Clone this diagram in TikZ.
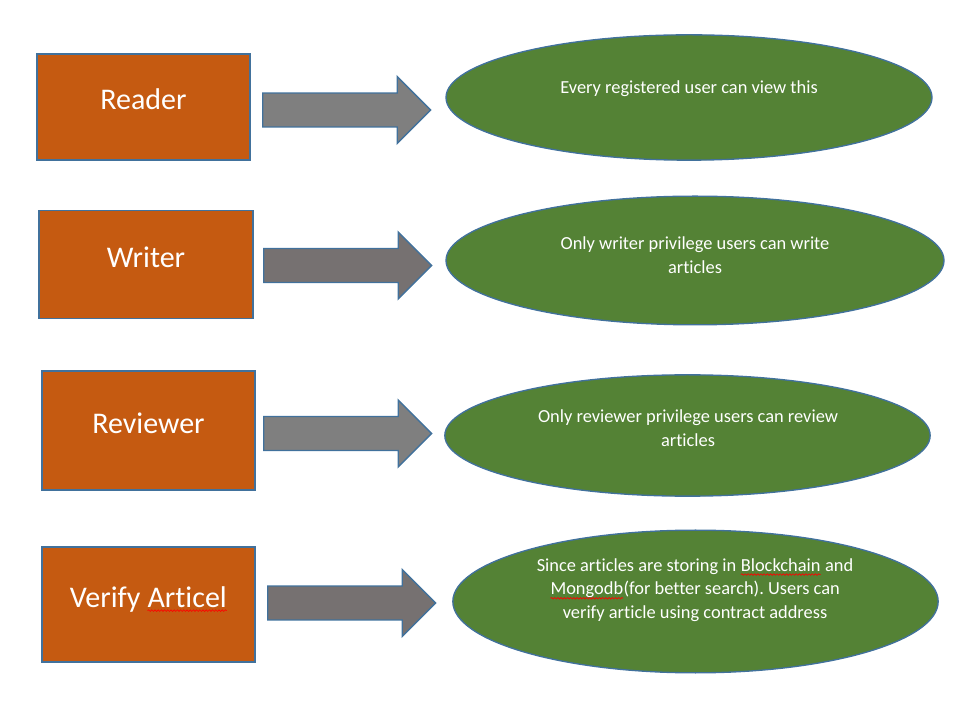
\documentclass[tikz,border=0pt]{standalone}
\usepackage{fontspec}
\setmainfont{Carlito}[Ligatures=NoCommon]
\frenchspacing
\usetikzlibrary{shapes.geometric,shapes.arrows,decorations.pathmorphing}
\definecolor{roleorange}{HTML}{C55A11}
\definecolor{edgeblue}{HTML}{41719C}
\definecolor{ovalgreen}{HTML}{548235}
\definecolor{arrowgray}{HTML}{7F7F7F}
\definecolor{arrowdark}{HTML}{767171}
\newcommand{\spellmark}[1]{\tikz[baseline=(w.base)]{%
  \node[shape=rectangle,draw=none,fill=none,inner sep=0pt,outer sep=0pt,
    minimum width=0pt,minimum height=0pt,text height=,text depth=,anchor=base] (w) {#1};
  \draw[red,line width=0.5pt,decorate,decoration={snake,amplitude=0.6pt,segment length=2.4pt}]
    ([yshift=-2.6pt]w.base west) -- ([yshift=-2.6pt]w.base east);}}

\begin{document}
\begin{tikzpicture}[x=0.75pt,y=-0.75pt,font=\normalsize,
  role/.style={rectangle,draw=edgeblue,line width=1.2pt,fill=roleorange,inner sep=0pt,
    text=white,font=\fontsize{22.5}{27}\selectfont,text height=10pt,text depth=6pt},
  oval/.style={ellipse,draw=edgeblue,line width=1pt,fill=ovalgreen,inner sep=0pt},
  ovaltext/.style={align=center,text=white,font=\fontsize{13.8}{17.8}\selectfont,inner sep=0pt},
  blockarrow/.style={single arrow,draw=edgeblue,line width=1pt,anchor=tail,
    minimum height=126pt,inner xsep=0pt,inner ysep=12.2pt,
    single arrow head extend=12.4pt,single arrow tip angle=90}]
  \useasboundingbox (0,0) rectangle (957,705);
  % --- roles ---
  \node[role,minimum width=160pt,minimum height=79.5pt] (r1) at (143.5,107) {Reader};
  \node[role,minimum width=160.5pt,minimum height=81pt] (r2) at (146,264.5) {Writer};
  \node[role,minimum width=160pt,minimum height=89pt] (r3) at (148.5,430.5) {Reviewer};
  \node[role,minimum width=160pt,minimum height=86pt] (r4) at (148.5,604.5) {Verify \spellmark{Articel}};
  % --- block arrows ---
  \node[blockarrow,fill=arrowgray] (a1) at (262,110) {};
  \node[blockarrow,fill=arrowdark] (a2) at (263,265.5) {};
  \node[blockarrow,fill=arrowgray] (a3) at (263,433.5) {};
  \node[blockarrow,fill=arrowdark] (a4) at (267,603) {};
  % --- permissions ---
  \node[oval,minimum width=364.5pt,minimum height=94pt] (e1) at (689,97.5) {};
  \node[oval,minimum width=373.5pt,minimum height=96.5pt] (e2) at (695,260.5) {};
  \node[oval,minimum width=364pt,minimum height=91pt] (e3) at (687.5,435.5) {};
  \node[oval,minimum width=364pt,minimum height=107pt] (e4) at (695.5,601.5) {};
  \node[ovaltext] (t1) at (689,89) {Every registered user can view this};
  \node[ovaltext] (t2) at (695,255) {Only writer privilege users can write\\articles};
  \node[ovaltext] (t3) at (688,428) {Only reviewer privilege users can review\\articles};
  \node[ovaltext] (t4) at (695,590) {Since articles are storing in \spellmark{Blockchain} and\\
    \spellmark{Mongodb}(for better search). Users can\\verify article using contract address};
\end{tikzpicture}
\end{document}
